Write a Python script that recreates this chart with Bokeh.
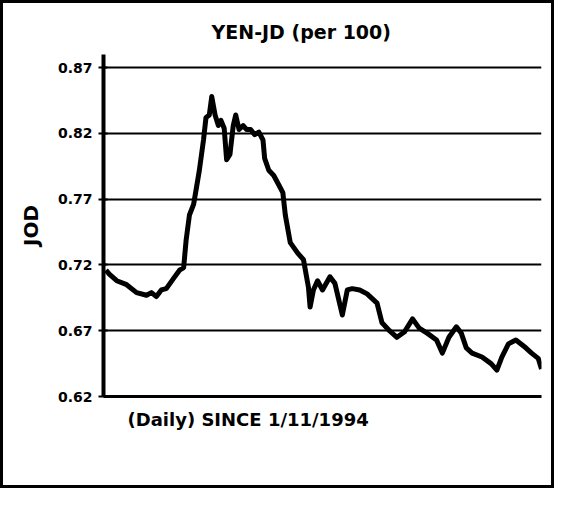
from bokeh.plotting import figure
from bokeh.models import FixedTicker, Title, Range1d
from bokeh.embed import file_html
from bokeh.resources import INLINE

# Trading-day index since 1/11/1994 and JOD per 100 yen
days = [0, 4, 13, 25, 37, 49, 55, 61, 67, 73, 82, 89, 94, 97, 101, 106, 109, 113,
        118, 121, 125, 128, 132, 136, 139, 143, 146, 150, 154, 157, 161, 166, 170,
        175, 180, 185, 190, 192, 197, 203, 209, 214, 217, 223, 232, 239, 245, 247,
        251, 256, 262, 271, 277, 286, 292, 298, 307, 316, 328, 334, 343, 352, 361,
        371, 379, 389, 400, 407, 415, 424, 430, 436, 443, 455, 466, 473, 479, 487,
        496, 508, 515, 523, 527]
jod = [0.716, 0.713, 0.708, 0.705, 0.699, 0.697, 0.699, 0.696, 0.701, 0.702, 0.710,
       0.716, 0.718, 0.739, 0.758, 0.766, 0.777, 0.792, 0.815, 0.832, 0.834, 0.848,
       0.834, 0.826, 0.830, 0.824, 0.800, 0.804, 0.826, 0.834, 0.823, 0.826, 0.823,
       0.823, 0.819, 0.821, 0.815, 0.801, 0.792, 0.788, 0.781, 0.775, 0.758, 0.737,
       0.729, 0.724, 0.703, 0.688, 0.701, 0.708, 0.701, 0.711, 0.706, 0.682, 0.701,
       0.702, 0.701, 0.698, 0.691, 0.676, 0.670, 0.665, 0.669, 0.679, 0.672, 0.668,
       0.663, 0.653, 0.665, 0.673, 0.668, 0.657, 0.653, 0.650, 0.645, 0.640, 0.650,
       0.660, 0.663, 0.657, 0.653, 0.649, 0.641]
y_ticks = [0.62, 0.67, 0.72, 0.77, 0.82, 0.87]
y_tick_labels = ["0.62", "0.67", "0.72", "0.77", "0.82", "0.87"]

FONT = "DejaVu Sans"

p = figure(width=554, height=488, output_backend="svg", toolbar_location=None,
           x_range=Range1d(-3, 527), y_range=Range1d(0.62, 0.88),
           min_border_left=100, min_border_right=16, min_border_top=51,
           min_border_bottom=95)
p.styles = {"border": "3px solid black", "box-sizing": "border-box"}
p.outline_line_color = None
p.background_fill_color = "white"
p.border_fill_color = "white"

p.line(days, jod, line_color="black", line_width=5, line_join="round")

# y axis
p.yaxis.ticker = FixedTicker(ticks=y_ticks)
p.yaxis.major_label_overrides = {t: l for t, l in zip(y_ticks, y_tick_labels)}
p.yaxis.major_label_text_font = FONT
p.yaxis.major_label_text_font_style = "bold"
p.yaxis.major_label_text_font_size = "14px"
p.yaxis.major_label_text_color = "black"
p.yaxis.axis_line_color = "black"
p.yaxis.axis_line_width = 4
p.yaxis.major_tick_line_color = "black"
p.yaxis.major_tick_line_width = 2
p.yaxis.major_tick_out = 5
p.yaxis.major_tick_in = 4
p.yaxis.minor_tick_line_color = None
p.yaxis.major_label_standoff = 6
p.yaxis.axis_label = "JOD"
p.yaxis.axis_label_text_font = FONT
p.yaxis.axis_label_text_font_style = "bold"
p.yaxis.axis_label_text_font_size = "20px"
p.yaxis.axis_label_text_color = "black"
p.yaxis.axis_label_standoff = 12

# x axis: plain baseline, no ticks
p.xaxis.ticker = FixedTicker(ticks=[])
p.xaxis.axis_line_color = "black"
p.xaxis.axis_line_width = 3
p.xaxis.major_tick_line_color = None
p.xaxis.minor_tick_line_color = None

p.xgrid.grid_line_color = None
p.ygrid.ticker = FixedTicker(ticks=y_ticks)
p.ygrid.grid_line_color = "black"
p.ygrid.grid_line_width = 2

p.add_layout(Title(text="YEN-JD (per 100)", align="left", offset=108, standoff=23,
                   text_font=FONT, text_font_style="bold", text_font_size="19px",
                   text_color="black"), "above")
p.add_layout(Title(text="(Daily) SINCE 1/11/1994", align="left", offset=24, standoff=21,
                   text_font=FONT, text_font_style="bold", text_font_size="18px",
                   text_color="black"), "below")

open("out.html", "w").write(file_html(p, INLINE))
